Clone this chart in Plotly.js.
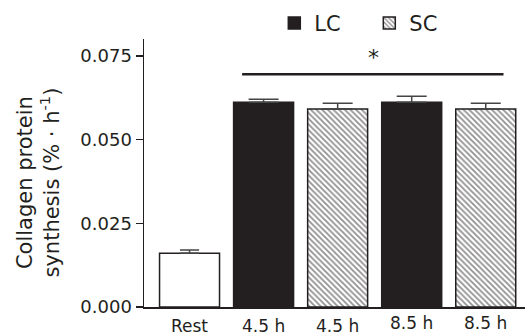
<!DOCTYPE html>
<html><head><meta charset="utf-8">
<script src="https://cdn.plot.ly/plotly-3.0.1.min.js"></script>
<style>html,body{margin:0;padding:0;background:#fff}#chart{width:526px;height:336px}</style>
</head><body><div id="chart"></div>
<script>
// data
const categories = ["Rest", "4.5 h", "4.5 h", "8.5 h", "8.5 h"];
const groups = ["Rest", "LC", "SC", "LC", "SC"];
const values = [0.0161, 0.0612, 0.0592, 0.0612, 0.0592];
const errors = [0.0009, 0.0009, 0.0017, 0.0018, 0.0017];
const yTicks = [0, 0.025, 0.05, 0.075];
const sigX = [0.71, 4.24];
const sigY = 0.0696;

const ink = "#231f20";
const font = "DejaVu Sans, Verdana, sans-serif";
const pos = categories.map((c, i) => i);

function pick(g) {
  const idx = groups.map((v, i) => v === g ? i : -1).filter(i => i >= 0);
  return {
    x: idx.map(i => pos[i]),
    y: idx.map(i => values[i]),
    e: idx.map(i => errors[i])
  };
}
const rest = pick("Rest"), lc = pick("LC"), sc = pick("SC");

const traces = [
  {type: "bar", x: rest.x, y: rest.y, width: 0.81, showlegend: false, name: "Rest",
   marker: {color: "#ffffff", line: {color: ink, width: 1.5}},
   error_y: {type: "data", symmetric: false, array: rest.e, arrayminus: rest.e.map(() => 0), color: "#444", thickness: 1.5, width: 9.5}},
  {type: "bar", x: lc.x, y: lc.y, width: 0.81, name: "LC",
   marker: {color: ink, line: {color: ink, width: 1.5}},
   error_y: {type: "data", symmetric: false, array: lc.e, arrayminus: lc.e.map(() => 0), color: "#444", thickness: 1.5, width: 15}},
  {type: "bar", x: sc.x, y: sc.y, width: 0.81, name: "SC",
   marker: {color: "#ffffff", line: {color: ink, width: 1.5},
            pattern: {shape: "\\", size: 4, solidity: 0.45, fgcolor: ink, bgcolor: "#ffffff", fillmode: "overlay"}},
   error_y: {type: "data", symmetric: false, array: sc.e, arrayminus: sc.e.map(() => 0), color: "#444", thickness: 1.5, width: 15}}
];

const annotations = categories.map((c, i) => ({
  x: pos[i], xref: "x", y: 0, yref: "y", text: c, showarrow: false,
  yanchor: "top", yshift: c.startsWith("8.5") ? -4 : -7,
  font: {family: font, size: 17, color: ink}
}));
annotations.push({
  x: (sigX[0] + sigX[1]) / 2 + 0.015, xref: "x", y: sigY, yref: "y", text: "*", showarrow: false,
  yanchor: "bottom", yshift: 2, font: {family: font, size: 22, color: ink}
});
annotations.push({
  x: -0.35, xref: "paper", y: 0.465, yref: "paper", textangle: -90, showarrow: false,
  text: "Collagen protein<br>synthesis (% · h<sup>-1</sup>)",
  font: {family: font, size: 21, color: ink}
});

const layout = {
  width: 526, height: 336,
  margin: {l: 144, r: 1, t: 39, b: 29},
  paper_bgcolor: "#fff", plot_bgcolor: "#fff",
  barmode: "overlay",
  showlegend: true,
  legend: {orientation: "h", x: 0.342, xanchor: "left", y: 1.135, yanchor: "top",
           font: {family: font, size: 21, color: ink}, itemwidth: 30, entrywidth: 50, entrywidthmode: "pixels",
           traceorder: "normal", bgcolor: "rgba(0,0,0,0)"},
  xaxis: {range: [-0.615, 4.53], showline: true, linecolor: ink, linewidth: 1.5,
          showgrid: false, zeroline: false, showticklabels: false, ticks: "", fixedrange: true},
  yaxis: {range: [0, 0.0801], showline: true, linecolor: ink, linewidth: 1.5,
          showgrid: false, zeroline: false, ticks: "outside", ticklen: 7, tickwidth: 1.5, tickcolor: ink,
          tickvals: yTicks, tickformat: ".3f", tickfont: {family: font, size: 18, color: ink}},
  shapes: [{type: "line", xref: "x", yref: "y", x0: sigX[0], x1: sigX[1], y0: sigY, y1: sigY,
            line: {color: ink, width: 2.5}}],
  annotations: annotations,
  font: {family: font, color: ink}
};

Plotly.newPlot("chart", traces, layout, {staticPlot: true, displayModeBar: false});
</script></body></html>
